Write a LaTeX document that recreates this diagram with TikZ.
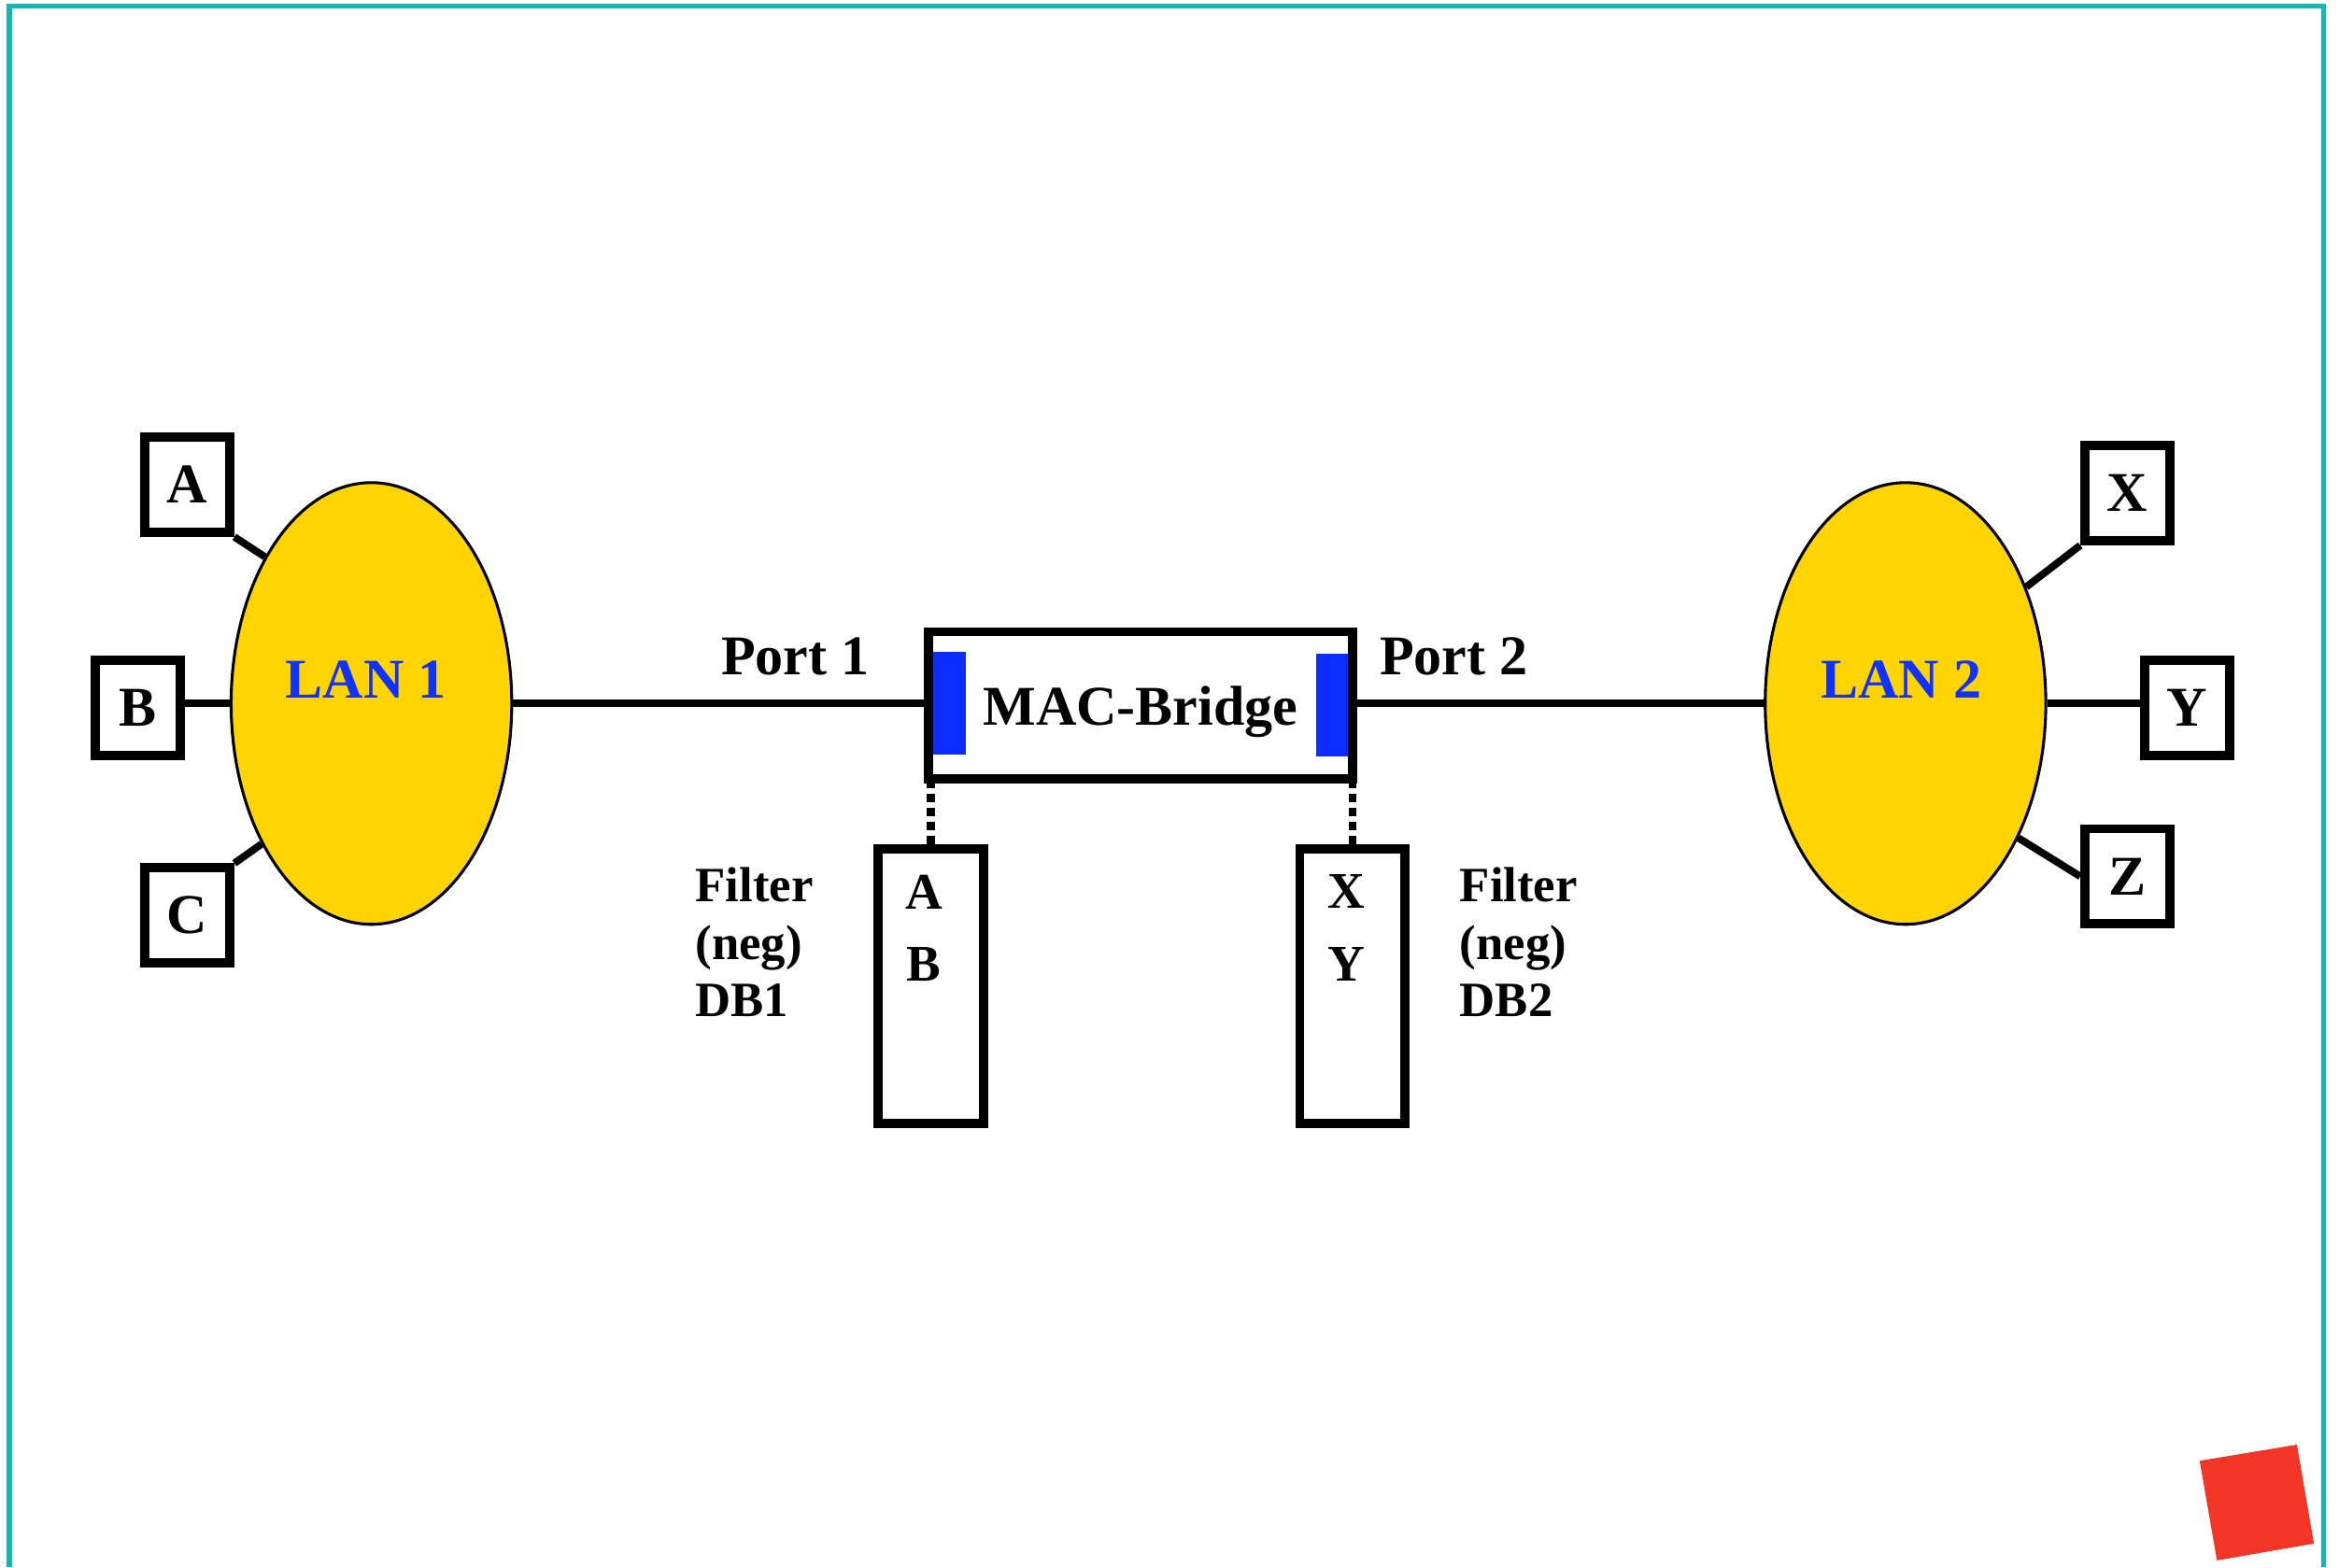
\documentclass[tikz,border=0pt]{standalone}
\usepackage{fontspec}
\setmainfont{Liberation Serif}
\usetikzlibrary{shapes.geometric}
\definecolor{lanYellow}{RGB}{255, 212, 0}
\definecolor{lanBlue}{RGB}{15, 50, 255}
\definecolor{portBlue}{RGB}{12, 45, 255}
\definecolor{frameTeal}{RGB}{16, 184, 180}
\definecolor{markRed}{RGB}{243, 53, 40}

\begin{document}
\begin{tikzpicture}[x=0.01cm, y=-0.01cm,
    every node/.style={font=\bfseries\fontsize{10.7}{12.8}\selectfont},
    station/.style={draw, line width=1.75pt, minimum width=0.57cm, minimum height=0.6375cm, inner sep=0pt},
    lan/.style={ellipse, draw, line width=0.55pt, fill=lanYellow, minimum width=1.88cm, minimum height=2.96cm, inner sep=0pt},
    lantext/.style={lanBlue, anchor=base, inner sep=0pt},
    filterbox/.style={draw, line width=1.75pt, minimum width=0.7065cm, minimum height=1.8395cm, inner sep=0pt},
    entry/.style={inner sep=0pt, font=\bfseries\fontsize{9.8}{11}\selectfont},
    filterlbl/.style={anchor=west, align=left, inner sep=0pt, font=\bfseries\fontsize{9.4}{11}\selectfont},
    link/.style={line width=1.4pt},
    tap/.style={line width=1.55pt, dash pattern=on 1.6pt off 1.1pt}]

      \useasboundingbox (0,0) rectangle (1568,1051);

      % slide frame and corner mark
      \draw[frameTeal, line width=0.94pt] (6.3,1051) -- (6.3,4.2) -- (1557.6,4.2) -- (1557.6,1051);
      \fill[markRed] (1474.6,979.5) -- (1539.8,968.7) -- (1551.2,1035) -- (1486.2,1046.3) -- cycle;

      % LAN 1 and its stations
      \node[lan] (lan1) at (249,471.7) {};
      \node[lantext] (lan1txt) at (245.2,467.9) {LAN 1};
      \node[station] (a) at (125.55,325.05) {A};
      \node[station] (b) at (92.15,474.75) {B};
      \node[station] (c) at (125.55,613.8) {C};

      % LAN 2 and its stations
      \node[lan] (lan2) at (1277.4,471.7) {};
      \node[lantext] (lan2txt) at (1274.6,467.9) {LAN 2};
      \node[station] (x) at (1426.15,330.7) {X};
      \node[station] (y) at (1466.1,474.75) {Y};
      \node[station] (z) at (1426.15,587.65) {Z};

      % station drops
      \draw[link] (a.south east) -- (lan1.126.6);
      \draw[link] (b.east |- lan1.west) -- (lan1.west);
      \draw[link] (c.north east) -- (lan1.232.2);
      \draw[link] (x.south west) -- (lan2.44.1);
      \draw[link] (lan2.east) -- (lan2.east -| y.west);
      \draw[link] (z.west) -- (lan2.-50.9);

      % port markers, then the bridge over them
      \fill[portBlue] (624.1,436.9) rectangle (647.7,505.8);
      \fill[portBlue] (882.5,438.3) rectangle (904.4,507.2);
      \node[draw, line width=1.75pt, minimum width=2.84cm, minimum height=0.9875cm,
            inner sep=0pt, text depth=0pt] (bridge) at (764.55,473.05) {MAC-Bridge};

      % trunk lines with port labels
      \draw[link] (lan1.east) -- (lan1.east -| bridge.west);
      \draw[link] (lan2.west -| bridge.east) -- (lan2.west);
      \node[anchor=base west, inner sep=0pt] (port1) at (482.8,452.5) {Port 1};
      \node[anchor=base west, inner sep=0pt] (port2) at (924.2,452.5) {Port 2};

      % filter databases
      \node[filterbox] (db1) at (623.9,661.35) {};
      \node[filterbox] (db2) at (906.7,661.35) {};
      \draw[tap] (db1.north) -- (db1.north |- bridge.south);
      \draw[tap] (db2.north) -- (db2.north |- bridge.south);
      \node[entry] (db1a) at (619.4,598) {A};
      \node[entry] (db1b) at (619.4,646.3) {B};
      \node[entry] (db2x) at (902.5,598) {X};
      \node[entry] (db2y) at (902.5,646.3) {Y};
      \node[filterlbl] (db1lbl) at (465.5,631.8) {Filter\\(neg)\\DB1};
      \node[filterlbl] (db2lbl) at (977.9,631.8) {Filter\\(neg)\\DB2};
    \end{tikzpicture}
\end{document}
